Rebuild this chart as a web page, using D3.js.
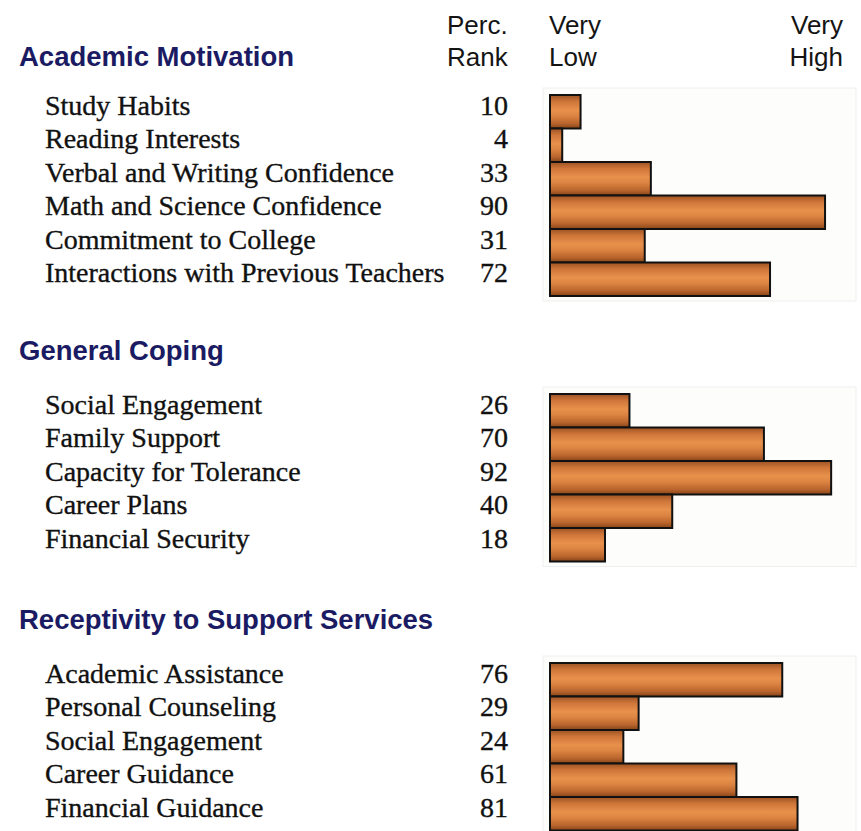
<!DOCTYPE html>
<html>
<head>
<meta charset="utf-8">
<script src="https://cdn.jsdelivr.net/npm/d3@7"></script>
<style>
  html, body { margin: 0; padding: 0; background: #ffffff; }
  svg { display: block; }
</style>
</head>
<body>
<script>
// ---- Data ----
const sectionTitles = ["Academic Motivation", "General Coping", "Receptivity to Support Services"];

const academicLabels = ["Study Habits", "Reading Interests", "Verbal and Writing Confidence",
  "Math and Science Confidence", "Commitment to College", "Interactions with Previous Teachers"];
const academicValues = [10, 4, 33, 90, 31, 72];

const copingLabels = ["Social Engagement", "Family Support", "Capacity for Tolerance",
  "Career Plans", "Financial Security"];
const copingValues = [26, 70, 92, 40, 18];

const receptivityLabels = ["Academic Assistance", "Personal Counseling", "Social Engagement",
  "Career Guidance", "Financial Guidance"];
const receptivityValues = [76, 29, 24, 61, 81];

const headerRank = ["Perc.", "Rank"];
const headerLow = ["Very", "Low"];
const headerHigh = ["Very", "High"];

// ---- Layout ----
const W = 861, H = 831;
const svg = d3.select("body").append("svg").attr("width", W).attr("height", H);

const defs = svg.append("defs");
const grad = defs.append("linearGradient").attr("id", "barGrad")
  .attr("x1", 0).attr("y1", 0).attr("x2", 0).attr("y2", 1);
[["0%", "#9c5222"], ["20%", "#cf763a"], ["45%", "#e8914c"], ["62%", "#dc8442"], ["85%", "#b8642c"], ["100%", "#854418"]]
  .forEach(([o, c]) => grad.append("stop").attr("offset", o).attr("stop-color", c));

const x = d3.scaleLinear().domain([0, 100]).range([550, 855.6]);

const sections = [
  { title: sectionTitles[0], labels: academicLabels, values: academicValues, titleY: 66, top: 95 },
  { title: sectionTitles[1], labels: copingLabels, values: copingValues, titleY: 360, top: 394 },
  { title: sectionTitles[2], labels: receptivityLabels, values: receptivityValues, titleY: 629, top: 663 }
];
const rowH = 33.5;

const sansFont = "'Liberation Sans', Arial, sans-serif";
const serifFont = "'Liberation Serif', 'Times New Roman', serif";

// Column headers
const hdr = svg.append("g").attr("font-family", sansFont).attr("font-size", 26).attr("fill", "#141414");
headerRank.forEach((t, i) => hdr.append("text").attr("x", 447).attr("y", 34 + i * 32).text(t));
headerLow.forEach((t, i) => hdr.append("text").attr("x", 549).attr("y", 34 + i * 32).text(t));
headerHigh.forEach((t, i) => hdr.append("text").attr("x", 843).attr("y", 34 + i * 32)
  .attr("text-anchor", "end").text(t));

sections.forEach(sec => {
  const n = sec.values.length;
  const y = d3.scaleBand().domain(d3.range(n)).range([sec.top, sec.top + n * rowH]).padding(0);
  const g = svg.append("g");

  g.append("text").attr("x", 19).attr("y", sec.titleY)
    .attr("font-family", sansFont).attr("font-size", 27.5).attr("font-weight", "bold")
    .attr("fill", "#1b1b63").text(sec.title);

  // panel
  g.append("rect").attr("x", 543).attr("y", sec.top - 7)
    .attr("width", 313).attr("height", n * rowH + 12)
    .attr("fill", "#fdfdfc").attr("stroke", "#efefef").attr("stroke-width", 1);

  // labels
  g.selectAll("text.lbl").data(sec.labels).join("text").attr("class", "lbl")
    .attr("x", 45).attr("y", (d, i) => y(i) + 19.5)
    .attr("font-family", serifFont).attr("font-size", 28).attr("fill", "#111")
    .attr("stroke", "#111").attr("stroke-width", 0.35)
    .text(d => d);

  // values
  g.selectAll("text.val").data(sec.values).join("text").attr("class", "val")
    .attr("x", 508).attr("y", (d, i) => y(i) + 19.5)
    .attr("text-anchor", "end")
    .attr("font-family", serifFont).attr("font-size", 28).attr("fill", "#111")
    .attr("stroke", "#111").attr("stroke-width", 0.35)
    .text(d => d);

  // bars
  g.selectAll("rect.bar").data(sec.values).join("rect").attr("class", "bar")
    .attr("x", x(0)).attr("y", (d, i) => y(i))
    .attr("width", d => x(d) - x(0)).attr("height", y.bandwidth())
    .attr("fill", "url(#barGrad)").attr("stroke", "#111").attr("stroke-width", 2);
});
</script>
</body>
</html>
